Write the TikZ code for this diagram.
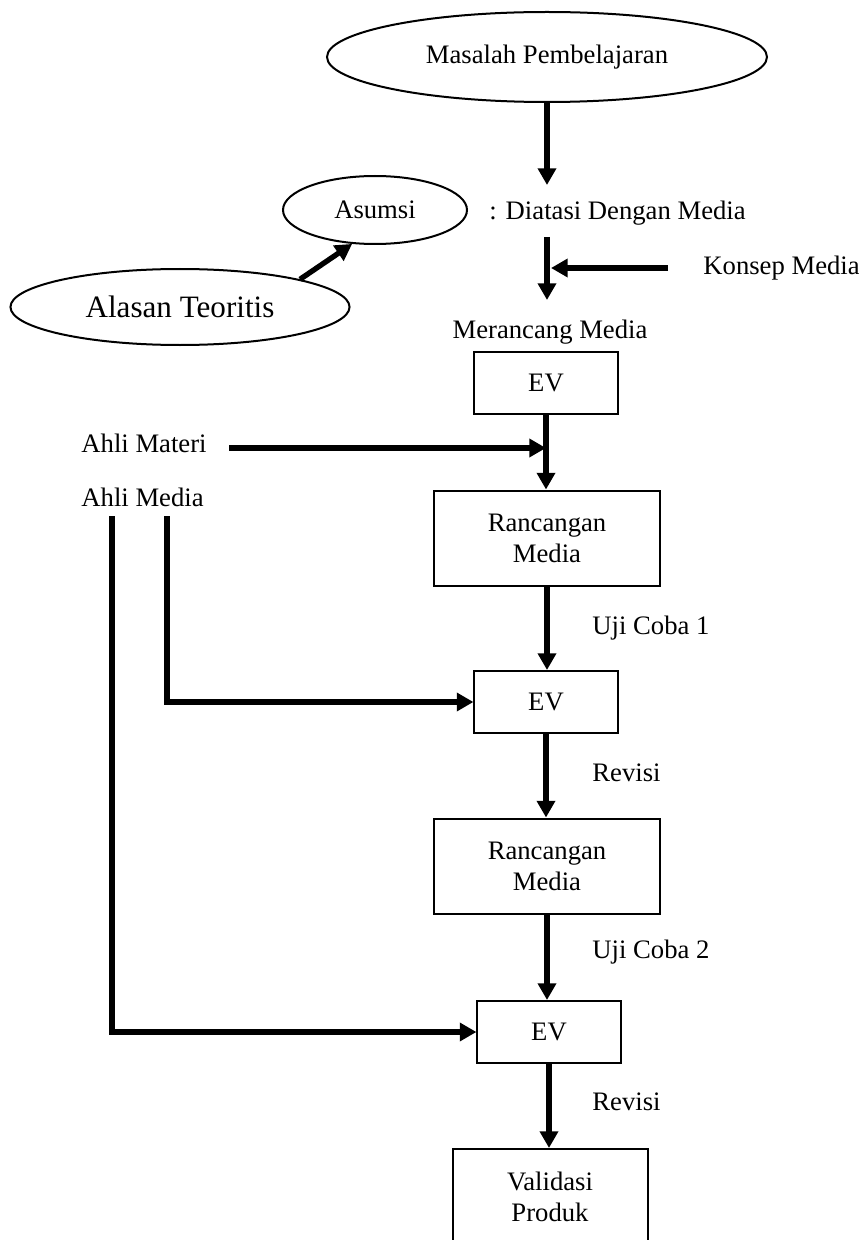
\documentclass[tikz,border=0pt]{standalone}
\usepackage{fontspec}
\setmainfont{Liberation Serif}
\usetikzlibrary{shapes.geometric}
\usetikzlibrary{arrows.meta}
\usetikzlibrary{calc,positioning}

\tikzset{
  teks/.style={font=\fontsize{12}{14}\selectfont, inner sep=0pt},
  oval/.style={ellipse, draw, line width=0.9pt, inner sep=0pt,
    font=\fontsize{12}{14}\selectfont},
  kotak/.style={rectangle, draw, line width=0.9pt, align=center, inner sep=0pt,
    font=\fontsize{12}{14}\selectfont},
  panah/.style={->, line width=2.4pt},
  garis/.style={line width=2.4pt},
}

\begin{document}
\begin{tikzpicture}[x=0.45pt,y=-0.45pt,>={Triangle[width=8pt,length=7.5pt]}]
\clip (0,0) rectangle (859,1240);

% bagian atas
\node[oval, minimum width=198pt, minimum height=40.5pt] (masalah) at (547,57) {Masalah Pembelajaran};
\node[oval, minimum width=82.8pt, minimum height=30.6pt] (asumsi) at (375,210) {Asumsi};
\node[oval, minimum width=152.6pt, minimum height=34.2pt,
      font=\fontsize{14}{16}\selectfont] (alasan) at (180,307) {Alasan Teoritis};
\node[teks, anchor=west] (diatasi) at (489,213) {: Diatasi Dengan Media};
\node[teks, anchor=west] (konsep) at (703,268) {Konsep Media};
\node[teks] (merancang) at (550,332) {Merancang Media};

\coordinate (t1) at (547,185);
\coordinate (t2) at (547,237);
\coordinate (t3) at (547,300);
\coordinate (k0) at (668,268);
\coordinate (k1) at (551,268);

% kotak-kotak
\node[kotak, minimum width=64.4pt, minimum height=27.9pt] (ev1) at (546,383) {EV};
\node[kotak, minimum width=101.7pt, minimum height=42.75pt] (ranc1) at (547,538) {Rancangan\\Media};
\node[kotak, minimum width=64.4pt, minimum height=27.9pt] (ev2) at (546,702) {EV};
\node[kotak, minimum width=101.7pt, minimum height=42.75pt] (ranc2) at (547,866) {Rancangan\\Media};
\node[kotak, minimum width=64.4pt, minimum height=27.9pt] (ev3) at (549,1032) {EV};
\node[kotak, minimum width=87.75pt, minimum height=43.2pt] (valid) at (550,1197) {Validasi\\Produk};

% ahli
\node[teks, anchor=west] (materi) at (81,443) {Ahli Materi};
\node[teks, anchor=west] (media) at (81,497) {Ahli Media};
\coordinate (m0) at (229,448);
\coordinate (m1) at (167,516);
\coordinate (m2) at (112,516);

% label panah
\node[teks, anchor=west] (uji1) at (592,628) {Uji Coba 1};
\node[teks, anchor=west] (rev1) at (592,773) {Revisi};
\node[teks, anchor=west] (uji2) at (592,952) {Uji Coba 2};
\node[teks, anchor=west] (rev2) at (592,1102) {Revisi};

% panah
\draw[panah] (masalah.south) -- (t1);
\draw[panah] (alasan.13) -- (asumsi.236);
\draw[panah] (t2) -- (t3);
\draw[panah] (k0) -- (k1);
\draw[panah] (ev1.south) -- (ev1.south |- ranc1.north);
\draw[panah] (m0) -- (m0 -| ev1.south);
\draw[panah] (ranc1.south) -- (ranc1.south |- ev2.north);
\draw[panah] (ev2.south) -- (ev2.south |- ranc2.north);
\draw[panah] (ranc2.south) -- (ranc2.south |- ev3.north);
\draw[panah] (ev3.south) -- (ev3.south |- valid.north);
\draw[panah] (m1) |- (ev2.west);
\draw[panah] (m2) |- (ev3.west);
\end{tikzpicture}
\end{document}
